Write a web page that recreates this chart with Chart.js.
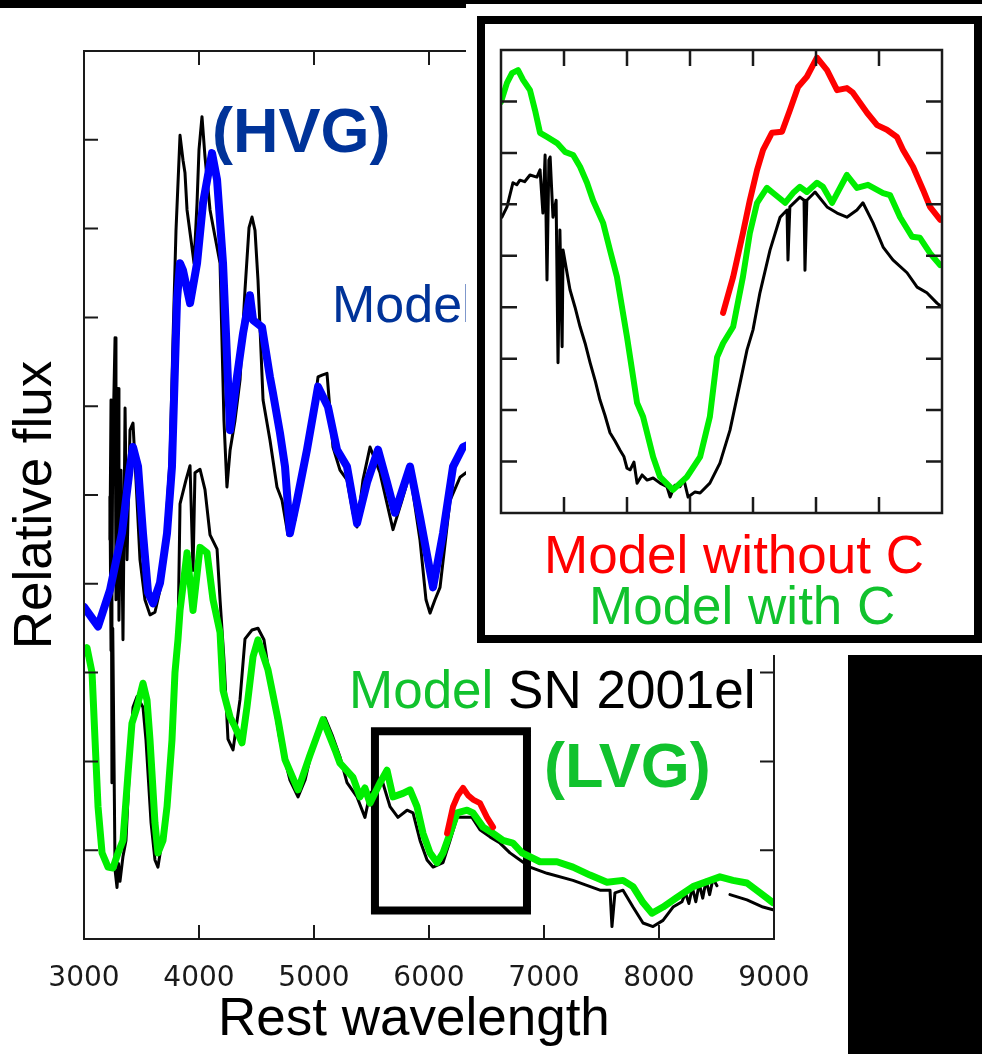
<!DOCTYPE html>
<html>
<head>
<meta charset="utf-8">
<script src="https://cdn.jsdelivr.net/npm/chart.js@4.4.1/dist/chart.umd.min.js"></script>
<style>
  body { margin: 0; background: #fff; }
  #page { position: relative; width: 982px; height: 1054px; overflow: hidden; background: #fff;
          font-family: "Liberation Sans", Arial, sans-serif; }
  .lbl { position: absolute; white-space: nowrap; line-height: 1; }
  canvas { position: absolute; }
</style>
</head>
<body>
<div id="page">
  <canvas id="mainChart" width="982" height="1054" style="left:0;top:0"></canvas>

  <div class="lbl" style="left:212px;top:99px;font-size:63px;font-weight:bold;color:#003399">(HVG)</div>
  <div class="lbl" style="left:332px;top:278px;font-size:52px;color:#003399">Model</div>
  <div class="lbl" style="left:349px;top:663px;font-size:53px;color:#000"><span style="color:#11c22d">Model</span> SN 2001el</div>
  <div class="lbl" style="left:544px;top:734px;font-size:63px;font-weight:bold;color:#11c22d">(LVG)</div>
  <div class="lbl" style="left:218px;top:990px;font-size:53px;color:#000">Rest wavelength</div>
  <div class="lbl" style="left:-167px;top:475px;width:400px;height:60px;line-height:60px;text-align:center;font-size:53px;color:#000;transform:rotate(-90deg)">Relative flux</div>

  <div style="position:absolute;left:0;top:0;width:982px;height:8px;background:#000"></div>
  <div style="position:absolute;left:466px;top:4px;width:516px;height:651px;background:#fff"></div>
  <div style="position:absolute;left:477px;top:16px;width:505px;height:627px;box-sizing:border-box;border:8px solid #000;background:#fff"></div>
  <canvas id="insetChart" width="487" height="611" style="left:486px;top:24px"></canvas>
  <div class="lbl" style="left:544px;top:528px;font-size:53px;color:#ff0000">Model without C</div>
  <div class="lbl" style="left:589px;top:579px;font-size:53px;color:#11c22d">Model with C</div>

  <div style="position:absolute;left:848px;top:655px;width:134px;height:399px;background:#000"></div>
</div>

<script>
// ---- main panel: wavelength (A) vs relative flux ----
const mainXTicks = [4000, 5000, 6000, 7000, 8000];
const mainYTicks = [1, 2, 3, 4, 5, 6, 7, 8, 9];

// high velocity spectrum (black) and its model (blue)
const hvgObs = [[3226,4.98],[3235,3.25],[3252,5.62],[3270,6.77],[3278,3.82],[3296,6.2],[3304,3.59],[3322,5.28],
  [3339,3.37],[3357,5.98],[3374,4.27],[3400,5.73],[3426,5.81],[3452,5.17],[3487,4.27],[3530,3.82],[3574,3.65],
  [3617,3.68],[3661,3.93],[3704,4.49],[3748,5.39],[3774,6.75],[3800,7.98],[3835,9.05],[3861,8.77],[3878,8.63],
  [3896,8.21],[3939,7.79],[3957,7.61],[3983,8.29],[4000,8.89],[4026,9.26],[4052,8.81],[4096,8.21],[4139,7.91],
  [4183,7.61],[4217,5.84],[4243,5.09],[4270,5.5],[4313,5.84],[4357,6.3],[4400,7.31],[4435,8.01],[4461,8.13],
  [4487,7.98],[4513,7.42],[4557,6.07],[4617,5.62],[4678,5.09],[4722,4.94],[4774,4.55],[4835,4.72],[4878,5.06],
  [4965,5.62],[5035,6.33],[5070,6.35],[5113,6.37],[5165,5.54],[5226,5.28],[5287,5.17],[5339,4.8],[5374,4.64],
  [5426,5.17],[5487,5.54],[5574,5.25],[5687,4.61],[5765,4.94],[5835,5.25],[5922,4.49],[5974,3.82],[6009,3.67],
  [6052,3.82],[6096,3.96],[6183,4.94],[6270,5.2],[6322,5.25],[6440,5.3]];

const hvgModel = [[3000,3.74],[3122,3.52],[3226,3.93],[3330,4.57],[3400,5.32],[3426,5.54],[3470,5.32],[3513,4.57],
  [3557,3.9],[3600,3.78],[3661,4.01],[3722,4.57],[3765,5.32],[3791,6.44],[3809,7.2],[3835,7.61],[3861,7.53],
  [3922,7.16],[3983,7.61],[4035,8.29],[4113,8.85],[4157,8.55],[4209,7.61],[4270,5.73],[4330,6.33],[4383,6.82],
  [4443,7.25],[4470,6.97],[4548,6.89],[4617,6.33],[4643,6.15],[4704,5.7],[4748,5.32],[4791,4.57],[4852,4.94],
  [4939,5.51],[5035,6.22],[5122,5.99],[5200,5.51],[5287,5.32],[5374,4.68],[5461,5.14],[5557,5.51],[5635,5.14],
  [5704,4.8],[5835,5.32],[5922,4.75],[6035,3.96],[6122,4.57],[6209,5.32],[6296,5.54],[6400,5.6]];

// SN 2001el low velocity spectrum (black), model with C (green), without C (red)
const lvgObs = [[3226,4.5],[3235,6.07],[3243,1.76],[3250,3.5],[3270,0.78],[3287,0.58],[3300,0.85],[3313,0.65],
  [3339,0.93],[3365,1.11],[3400,2.05],[3426,2.61],[3461,2.73],[3513,2.61],[3539,2.24],[3583,1.31],[3617,0.89],
  [3643,0.81],[3704,1.31],[3757,2.24],[3791,2.99],[3817,3.37],[3835,4.9],[3887,5.17],[3922,5.33],[3948,4.15],
  [3965,5.25],[4009,5.29],[4052,5.06],[4096,4.55],[4157,4.39],[4183,3.82],[4217,3.15],[4252,2.25],[4296,2.13],
  [4357,2.7],[4400,3.38],[4461,3.48],[4513,3.5],[4565,3.37],[4617,2.92],[4704,2.24],[4791,1.79],[4861,1.6],
  [4922,1.79],[4983,2.13],[5052,2.41],[5096,2.49],[5157,2.3],[5226,2.05],[5287,1.76],[5374,1.6],[5443,1.37],
  [5487,1.64],[5548,1.71],[5591,1.79],[5661,1.49],[5730,1.37],[5809,1.45],[5861,1.42],[5922,1.11],[5983,0.89],
  [6035,0.81],[6122,0.86],[6183,1.11],[6244,1.37],[6296,1.37],[6374,1.37],[6443,1.23],[6530,1.15],[6617,1.08],
  [6704,0.97],[6791,0.89],[6878,0.81],[7026,0.74],[7252,0.66],[7487,0.55],[7574,0.55],[7591,0.14],[7617,0.52],
  [7687,0.55],[7774,0.36],[7861,0.18],[7948,0.14],[8035,0.21],[8122,0.36],[8200,0.42],[8230,0.52],[8260,0.4],
  [8290,0.58],[8320,0.42],[8350,0.62],[8380,0.46],[8410,0.66],[8440,0.5],[8470,0.68],[8504,0.6],[8560,null],
  [8617,0.5],[8765,0.44],[8904,0.36],[8991,0.33]];

const lvgModelC = [[3000,3.22],[3026,3.28],[3070,3.0],[3096,2.24],[3122,1.49],[3157,0.97],[3209,0.81],[3252,0.8],
  [3296,0.97],[3339,1.11],[3383,1.87],[3417,2.43],[3461,2.61],[3513,2.88],[3548,2.69],[3574,2.24],[3617,1.31],
  [3643,0.97],[3687,1.11],[3722,1.49],[3765,2.24],[3791,3.0],[3817,3.37],[3835,3.7],[3896,4.35],[3948,3.7],
  [4009,4.41],[4070,4.35],[4122,3.82],[4183,3.45],[4209,2.8],[4270,2.5],[4313,2.39],[4374,2.21],[4417,2.61],
  [4470,3.18],[4513,3.37],[4600,3.03],[4687,2.47],[4748,2.02],[4861,1.68],[4965,2.07],[5078,2.47],[5183,2.13],
  [5226,1.98],[5339,1.82],[5400,1.6],[5443,1.7],[5487,1.53],[5574,1.76],[5635,1.9],[5687,1.6],[5774,1.64],
  [5835,1.68],[5896,1.49],[5948,1.19],[6009,0.97],[6070,0.86],[6122,0.97],[6183,1.19],[6244,1.42],[6331,1.45],
  [6383,1.42],[6470,1.26],[6557,1.19],[6643,1.11],[6730,1.08],[6809,0.97],[6965,0.87],[7113,0.87],[7252,0.81],
  [7400,0.72],[7548,0.64],[7687,0.66],[7774,0.59],[7861,0.41],[7939,0.29],[8035,0.36],[8157,0.47],[8296,0.59],
  [8530,0.7],[8643,0.66],[8765,0.63],[8878,0.52],[8991,0.41]];

const lvgModelNoC = [[6157,1.19],[6209,1.49],[6252,1.62],[6296,1.7],[6339,1.62],[6383,1.57],[6443,1.53],
  [6504,1.37],[6557,1.26]];

// zoom box marking the inset region
const zoomBoxWave = [5530, 6852];
const zoomBoxFlux = [0.32, 2.34];

// ---- inset: Si II / C II region ----
const insetXTicks = [5700, 5900, 6100, 6300, 6500, 6700];
const insetYTicks = [1, 2, 3, 4, 5, 6, 7, 8];

const insetObs = [[5503,5.75],[5519,5.95],[5538,6.42],[5550,6.38],[5560,6.47],[5575,6.44],[5592,6.57],[5614,6.53],
  [5624,6.67],[5633,5.83],[5640,6.96],[5646,4.53],[5652,6.86],[5656,6.92],[5665,5.75],[5675,6.08],[5681,2.92],
  [5687,5.5],[5694,3.23],[5697,5.11],[5719,4.34],[5735,4.0],[5751,3.62],[5767,3.3],[5783,2.92],[5800,2.55],
  [5814,2.2],[5830,1.9],[5846,1.56],[5862,1.4],[5878,1.22],[5890,1.1],[5900,0.87],[5910,0.84],[5922,0.99],
  [5932,0.58],[5948,0.74],[5964,0.64],[5983,0.68],[6005,0.58],[6027,0.51],[6037,0.31],[6052,0.54],[6068,0.51],
  [6081,0.64],[6094,0.31],[6116,0.41],[6132,0.39],[6163,0.58],[6195,0.97],[6227,1.61],[6259,2.53],[6281,3.17],
  [6300,3.56],[6322,4.28],[6354,5.11],[6386,5.75],[6408,5.89],[6411,4.92],[6417,5.95],[6449,6.14],[6462,6.08],
  [6465,4.72],[6471,6.08],[6497,6.24],[6535,5.95],[6567,5.83],[6598,5.75],[6630,5.89],[6649,6.03],[6681,5.64],
  [6713,5.17],[6744,4.92],[6789,4.67],[6821,4.39],[6852,4.28],[6884,4.08],[6900,4.0]];

const insetModelC = [[5500,7.99],[5519,8.36],[5535,8.55],[5554,8.61],[5570,8.42],[5592,8.22],[5608,7.83],[5624,7.39],
  [5646,7.31],[5678,7.19],[5703,7.02],[5729,6.96],[5751,6.73],[5773,6.42],[5792,6.08],[5824,5.64],[5846,5.11],
  [5868,4.59],[5900,3.42],[5932,2.14],[5951,1.87],[5983,1.09],[6005,0.7],[6046,0.45],[6090,0.7],[6132,1.09],
  [6163,1.87],[6186,3.03],[6205,3.3],[6237,3.62],[6268,4.59],[6290,5.44],[6313,6.03],[6344,6.32],[6364,6.22],
  [6402,6.03],[6427,6.22],[6449,6.34],[6471,6.24],[6503,6.42],[6522,6.34],[6551,6.03],[6598,6.57],[6630,6.32],
  [6665,6.38],[6713,6.22],[6735,6.18],[6767,5.75],[6805,5.37],[6830,5.35],[6862,5.05],[6894,4.82]];

const insetModelNoC = [[6205,3.89],[6237,4.59],[6268,5.44],[6290,6.08],[6313,6.67],[6332,7.06],[6360,7.39],
  [6392,7.41],[6417,7.83],[6443,8.28],[6471,8.48],[6503,8.85],[6535,8.61],[6567,8.22],[6598,8.26],[6617,8.17],
  [6662,7.78],[6694,7.54],[6725,7.45],[6757,7.31],[6776,7.06],[6808,6.73],[6840,6.28],[6862,5.95],[6894,5.7]];

const toPoints = arr => arr.map(p => ({ x: p[0], y: p[1] }));

const boxPoints = [
  { x: zoomBoxWave[0], y: zoomBoxFlux[1] }, { x: zoomBoxWave[1], y: zoomBoxFlux[1] },
  { x: zoomBoxWave[1], y: zoomBoxFlux[0] }, { x: zoomBoxWave[0], y: zoomBoxFlux[0] },
  { x: zoomBoxWave[0], y: zoomBoxFlux[1] }
];

// frame with inward tick marks on all four sides
function frameTicks(xTicks, yTicks, len, lw) {
  return {
    id: 'frameTicks',
    afterDatasetsDraw(chart) {
      const { ctx, chartArea: a, scales } = chart;
      ctx.save();
      ctx.strokeStyle = '#1a1a1a';
      ctx.lineWidth = lw;
      ctx.strokeRect(a.left, a.top, a.right - a.left, a.bottom - a.top);
      ctx.beginPath();
      xTicks.forEach(v => {
        const px = scales.x.getPixelForValue(v);
        ctx.moveTo(px, a.bottom); ctx.lineTo(px, a.bottom - len);
        ctx.moveTo(px, a.top); ctx.lineTo(px, a.top + len);
      });
      yTicks.forEach(v => {
        const py = scales.y.getPixelForValue(v);
        ctx.moveTo(a.left, py); ctx.lineTo(a.left + len, py);
        ctx.moveTo(a.right, py); ctx.lineTo(a.right - len, py);
      });
      ctx.stroke();
      ctx.restore();
    }
  };
}

function line(data, color, width, order) {
  return {
    data: data, borderColor: color, borderWidth: width, order: order,
    pointRadius: 0, fill: false, tension: 0, spanGaps: false,
    borderJoinStyle: 'round', borderCapStyle: 'round'
  };
}

const boxSet = line(boxPoints, '#000', 8, 3);
boxSet.borderJoinStyle = 'miter';
boxSet.borderCapStyle = 'square';

new Chart(document.getElementById('mainChart'), {
  type: 'line',
  data: {
    datasets: [
      line(toPoints(lvgModelNoC), '#ff0000', 6, 0),
      line(toPoints(hvgModel), '#0000ff', 8, 1),
      line(toPoints(lvgModelC), '#00ee00', 7, 2),
      boxSet,
      line(toPoints(hvgObs), '#000', 3, 4),
      line(toPoints(lvgObs), '#000', 3, 5)
    ]
  },
  options: {
    responsive: false,
    animation: false,
    events: [],
    layout: { padding: { left: 84, top: 51, right: 208, bottom: 0 } },
    plugins: { legend: { display: false }, tooltip: { enabled: false } },
    scales: {
      x: {
        type: 'linear', min: 3000, max: 9000,
        grid: { display: false }, border: { display: false },
        ticks: {
          stepSize: 1000, padding: 15, color: '#1a1a1a',
          font: { family: 'DejaVu Sans', size: 28 },
          callback: v => String(v)
        },
        afterFit: s => { s.height = 115; }
      },
      y: { type: 'linear', min: 0, max: 10, display: false }
    }
  },
  plugins: [frameTicks(mainXTicks, mainYTicks, 14, 2)]
});

new Chart(document.getElementById('insetChart'), {
  type: 'line',
  data: {
    datasets: [
      line(toPoints(insetModelNoC), '#ff0000', 6, 0),
      line(toPoints(insetModelC), '#00ee00', 6, 1),
      line(toPoints(insetObs), '#000', 3, 2)
    ]
  },
  options: {
    responsive: false,
    animation: false,
    events: [],
    layout: { padding: { left: 15, top: 26, right: 31, bottom: 122 } },
    plugins: { legend: { display: false }, tooltip: { enabled: false } },
    scales: {
      x: { type: 'linear', min: 5500, max: 6900, display: false },
      y: { type: 'linear', min: 0, max: 9, display: false }
    }
  },
  plugins: [frameTicks(insetXTicks, insetYTicks, 16, 2.5)]
});
</script>
</body>
</html>
